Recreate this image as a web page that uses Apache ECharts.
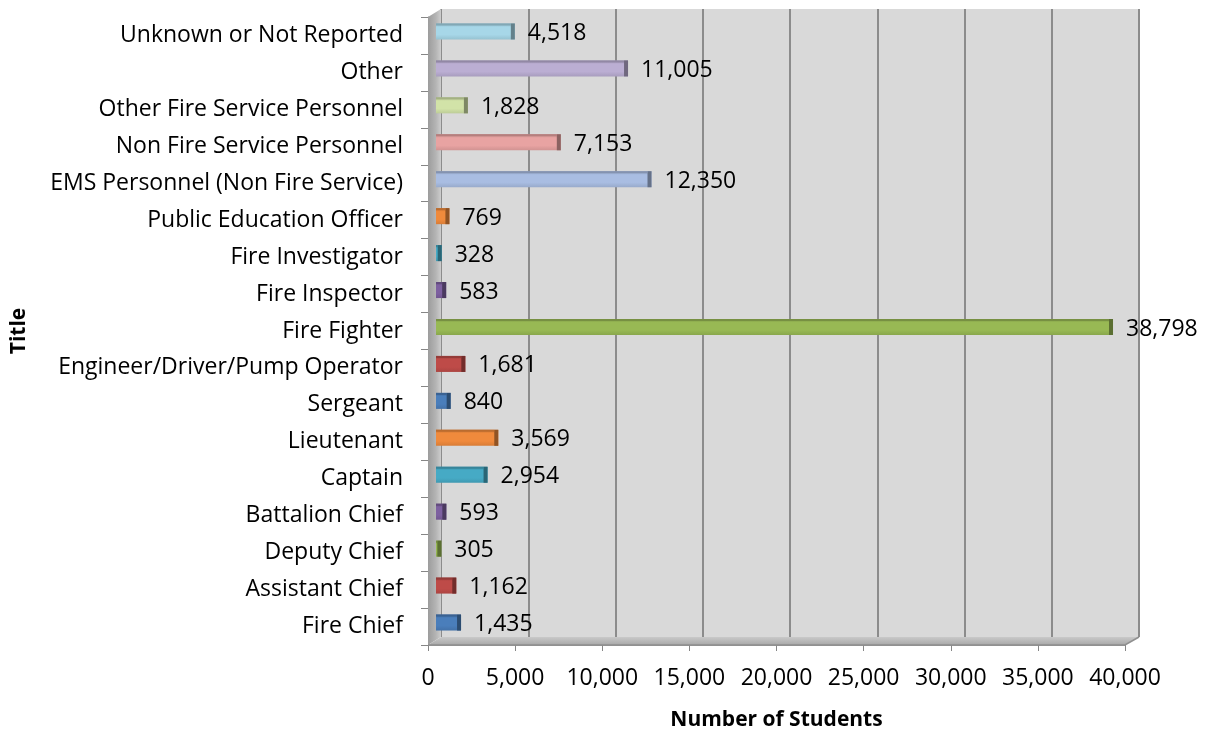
<!DOCTYPE html>
<html>
<head>
<meta charset="utf-8">
<script src="https://cdn.jsdelivr.net/npm/echarts@6/dist/echarts.min.js"></script>
<style>
  html, body { margin: 0; padding: 0; background: #ffffff; }
  #chart { width: 1210px; height: 738px; }
</style>
</head>
<body>
<div id="chart"></div>
<script>
// Student counts by title (listed bottom to top)
var titles = [
  'Fire Chief', 'Assistant Chief', 'Deputy Chief', 'Battalion Chief', 'Captain',
  'Lieutenant', 'Sergeant', 'Engineer/Driver/Pump Operator', 'Fire Fighter',
  'Fire Inspector', 'Fire Investigator', 'Public Education Officer',
  'EMS Personnel (Non Fire Service)', 'Non Fire Service Personnel',
  'Other Fire Service Personnel', 'Other', 'Unknown or Not Reported'
];
var students = [
  1435, 1162, 305, 593, 2954,
  3569, 840, 1681, 38798,
  583, 328, 769,
  12350, 7153,
  1828, 11005, 4518
];
var xTicks = [0, 5000, 10000, 15000, 20000, 25000, 30000, 35000, 40000];

// Office-style palette: six base hues, then their lighter tints
var barColors = [
  '#4a7ebb', '#be4b48', '#98b954', '#7d60a0', '#46aac5', '#f08a3c',
  '#4a7ebb', '#be4b48', '#98b954', '#7d60a0', '#46aac5', '#f08a3c',
  '#a9bde2', '#e8a3a2', '#d2e3a8', '#bbaed3', '#a7d7e8'
];

// Box geometry for the 3-D look (front plane, bar plane, back wall)
var FRONT = { l: 428, r: 1125, t: 17, b: 645 };
var MID   = { l: 436, r: 1134, t: 13, b: 641 };
var BACK  = { l: 441, r: 1139, t: 9,  b: 637 };
var W = 1210, H = 738;

function gridOf(box, extra) {
  return Object.assign({
    left: box.l, right: W - box.r, top: box.t, bottom: H - box.b,
    containLabel: false
  }, extra || {});
}

function shade(hex, f) {
  var n = parseInt(hex.slice(1), 16);
  var r = (n >> 16) & 255, g = (n >> 8) & 255, b = n & 255;
  function c(v) { return Math.max(0, Math.min(255, Math.round(v * f))); }
  return 'rgb(' + c(r) + ',' + c(g) + ',' + c(b) + ')';
}

function barFill(hex) {
  return new echarts.graphic.LinearGradient(0, 0, 0, 1, [
    { offset: 0, color: shade(hex, 0.82) },
    { offset: 0.22, color: hex },
    { offset: 0.7, color: hex },
    { offset: 1, color: shade(hex, 0.9) }
  ]);
}

var FONT = '"Open Sans", "Liberation Sans", sans-serif';
var fmt = function (v) { return Number(v).toLocaleString('en-US'); };

var xMax = xTicks[xTicks.length - 1];
var xStep = xTicks[1] - xTicks[0];

var valueAxisBase = { type: 'value', min: xTicks[0], max: xMax, interval: xStep };

var option = {
  backgroundColor: '#ffffff',
  animation: false,
  textStyle: { fontFamily: FONT },
  grid: [
    gridOf(BACK, { show: true, backgroundColor: '#d9d9d9', borderWidth: 0 }),
    gridOf(MID),
    gridOf(FRONT)
  ],
  xAxis: [
    Object.assign({}, valueAxisBase, {
      gridIndex: 0,
      axisLine: { show: false }, axisTick: { show: false }, axisLabel: { show: false },
      splitLine: { show: true, lineStyle: { color: '#8c8c8c', width: 2 } }
    }),
    Object.assign({}, valueAxisBase, {
      gridIndex: 1, show: false
    }),
    Object.assign({}, valueAxisBase, {
      gridIndex: 2,
      name: 'Number of Students',
      nameLocation: 'middle',
      nameGap: 65,
      nameTextStyle: { fontFamily: FONT, fontSize: 21, fontWeight: 'bold', color: '#000' },
      axisLine: { show: true, lineStyle: { color: '#9a9a9a', width: 1 } },
      axisTick: { show: true, length: 6, lineStyle: { color: '#868686' } },
      axisLabel: {
        margin: 22, fontFamily: FONT, fontSize: 23, color: '#000',
        formatter: fmt
      },
      splitLine: { show: false }
    })
  ],
  yAxis: [
    { type: 'category', gridIndex: 0, data: titles, show: false },
    { type: 'category', gridIndex: 1, data: titles, show: false },
    {
      type: 'category', gridIndex: 2, data: titles,
      name: 'Title',
      nameLocation: 'middle',
      nameGap: 398,
      nameRotate: 90,
      nameTextStyle: { fontFamily: FONT, fontSize: 21, fontWeight: 'bold', color: '#000' },
      axisLine: { show: true, lineStyle: { color: '#8a8a8a' } },
      axisTick: { show: true, length: 7, lineStyle: { color: '#868686' } },
      axisLabel: { margin: 25, interval: 0, fontFamily: FONT, fontSize: 23, color: '#000' },
      splitLine: { show: false }
    }
  ],
  graphic: [
    // left side wall
    {
      type: 'polygon', z: 1, silent: true,
      shape: { points: [[FRONT.l, FRONT.t], [BACK.l, BACK.t], [BACK.l, BACK.b], [FRONT.l, FRONT.b]] },
      style: {
        fill: new echarts.graphic.LinearGradient(0, 0, 1, 0, [
          { offset: 0, color: '#9c9c9c' }, { offset: 0.6, color: '#b4b4b4' }, { offset: 1, color: '#cdcdcd' }
        ])
      }
    },
    // floor
    {
      type: 'polygon', z: 1, silent: true,
      shape: { points: [[FRONT.l, FRONT.b], [BACK.l, BACK.b], [BACK.r, BACK.b], [FRONT.r, FRONT.b]] },
      style: {
        fill: new echarts.graphic.LinearGradient(0, 0, 0, 1, [
          { offset: 0, color: '#c9c9c9' }, { offset: 1, color: '#a8a8a8' }
        ])
      }
    },
    // front edge of floor
    {
      type: 'polyline', z: 1, silent: true,
      shape: { points: [[FRONT.l, FRONT.b], [FRONT.r, FRONT.b], [BACK.r, BACK.b]] },
      style: { stroke: '#8f8f8f', lineWidth: 1.5, fill: null }
    }
  ],
  series: [
    {
      type: 'bar',
      xAxisIndex: 1, yAxisIndex: 1,
      z: 3,
      barWidth: 16,
      data: students.map(function (v, i) {
        return { value: v, itemStyle: { color: barFill(barColors[i]) } };
      }),
      label: {
        show: true, position: 'right', distance: 13, offset: [0, 2],
        fontFamily: FONT, fontSize: 23, color: '#000',
        formatter: function (p) { return fmt(p.value); }
      }
    },
    {
      // darker end face on each bar
      type: 'custom',
      xAxisIndex: 1, yAxisIndex: 1,
      z: 4,
      silent: true,
      encode: { x: 0, y: 1 },
      data: students.map(function (v, i) { return [v, i]; }),
      renderItem: function (params, api) {
        var end = api.coord([api.value(0), api.value(1)]);
        var start = api.coord([0, api.value(1)]);
        var i = params.dataIndex;
        var capW = Math.min(4, Math.max(2, end[0] - start[0]));
        return {
          type: 'group',
          children: [
            {
              type: 'rect',
              shape: { x: end[0] - capW, y: end[1] - 8, width: capW, height: 16 },
              style: { fill: shade(barColors[i], 0.6) }
            },
            {
              type: 'rect',
              shape: { x: start[0], y: end[1] - 8, width: Math.max(0, end[0] - start[0] - capW), height: 2 },
              style: { fill: shade(barColors[i], 0.78) }
            }
          ]
        };
      }
    }
  ]
};

var chart = echarts.init(document.getElementById('chart'), null, { renderer: 'canvas' });
chart.setOption(option);
</script>
</body>
</html>
